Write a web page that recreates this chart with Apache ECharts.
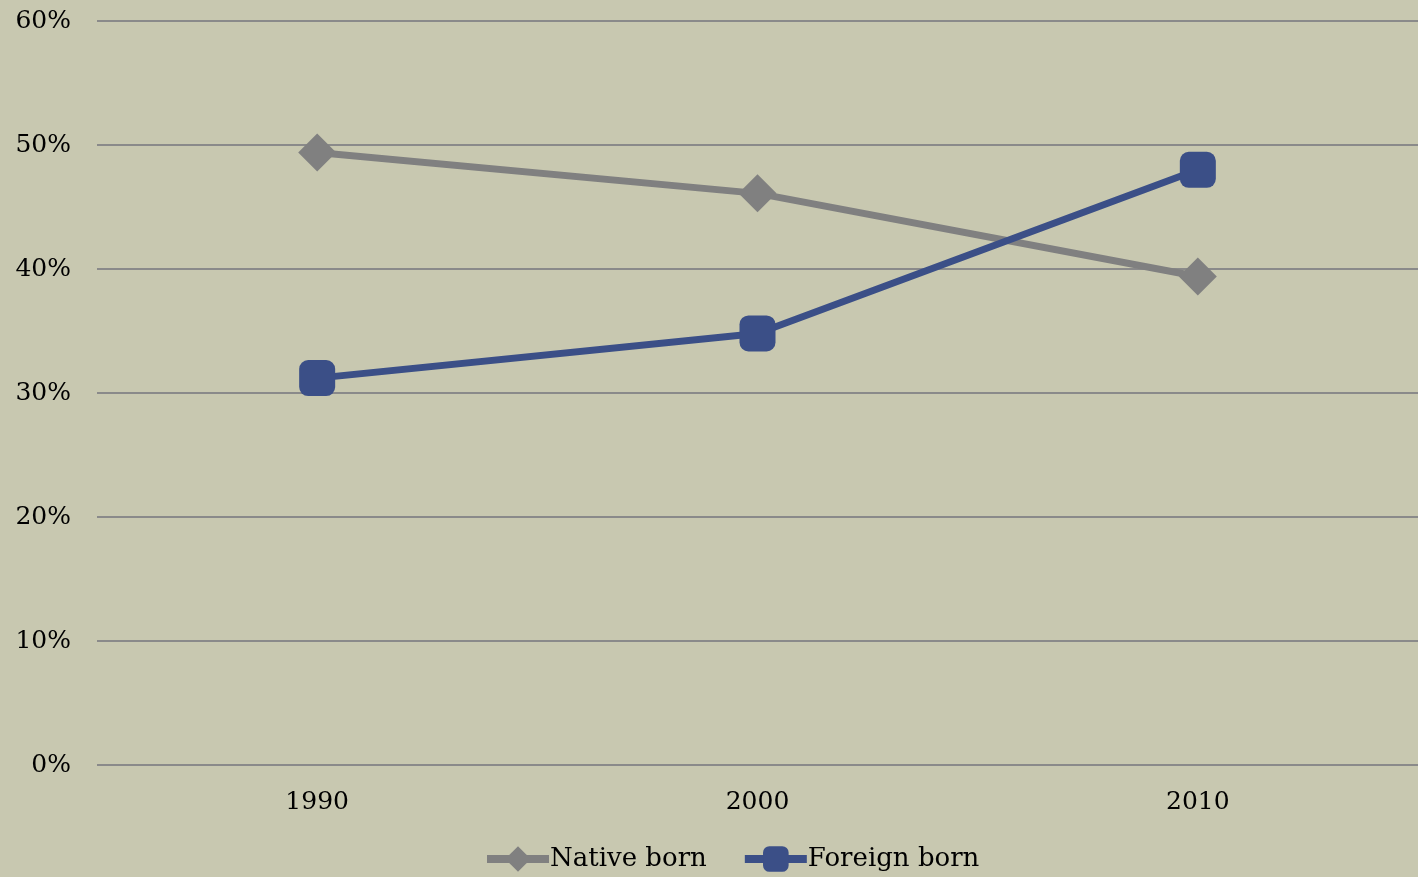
<!DOCTYPE html>
<html><head><meta charset="utf-8">
<script src="https://cdn.jsdelivr.net/npm/echarts@6/dist/echarts.min.js"></script>
<style>html,body{margin:0;padding:0;background:#C8C8B0;}#c{width:1418px;height:877px;}</style>
</head><body><div id="c"></div>
<script>
const categories = ['1990', '2000', '2010'];
const nativeBorn = [49.4, 46.1, 39.4];
const foreignBorn = [31.2, 34.8, 48.0];
const yTicks = [0, 10, 20, 30, 40, 50, 60];

const font = 'DejaVu Serif';
const chart = echarts.init(document.getElementById('c'));
chart.setOption({
  backgroundColor: '#C8C8B0',
  animation: false,
  grid: {left: 97, right: 0, top: 21, bottom: 112},
  legend: {
    bottom: 0, left: 478, itemWidth: 62, itemHeight: 32, itemGap: 34,
    lineStyle: {width: 8},
    textStyle: {fontFamily: font, fontSize: 26, color: '#000', padding: [0,0,0,-4]},
    data: ['Native born', 'Foreign born']
  },
  xAxis: {
    type: 'category', data: categories, boundaryGap: true,
    axisLine: {show: false}, axisTick: {show: false},
    axisLabel: {fontFamily: font, fontSize: 25, color: '#000', margin: 25}
  },
  yAxis: {
    type: 'value', min: yTicks[0], max: yTicks[yTicks.length-1], interval: 10,
    axisLine: {show: false}, axisTick: {show: false},
    axisLabel: {fontFamily: font, fontSize: 25, color: '#000', margin: 26, formatter: v => v + '%'},
    splitLine: {lineStyle: {color: '#8a8a8a', width: 2}}
  },
  series: [
    {name: 'Native born', type: 'line', data: nativeBorn, symbol: 'diamond', symbolSize: 38,
     lineStyle: {color: '#808080', width: 7}, itemStyle: {color: '#808080'}},
    {name: 'Foreign born', type: 'line', data: foreignBorn, symbol: 'roundRect', symbolSize: 36,
     lineStyle: {color: '#3B4F87', width: 7}, itemStyle: {color: '#3B4F87'}}
  ]
});
</script></body></html>
